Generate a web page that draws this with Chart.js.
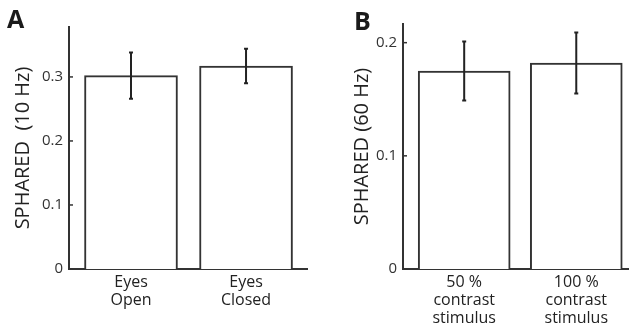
<!DOCTYPE html>
<html><head><meta charset="utf-8">
<script src="https://cdn.jsdelivr.net/npm/chart.js@4/dist/chart.umd.min.js"></script>
<style>
html,body{margin:0;padding:0;background:#fff;}
#wrap{position:relative;width:629px;height:329px;overflow:hidden;background:#fff;}
.panel{position:absolute;top:0;height:329px;}
#pA{left:0;width:315px;}
#pB{left:315px;width:314px;}
.tag{position:absolute;font:bold 25px "Open Sans";line-height:1;color:#1a1a1a;}
</style></head>
<body>
<div id="wrap">
  <div class="panel" id="pA"><canvas id="cA"></canvas></div>
  <div class="panel" id="pB"><canvas id="cB"></canvas></div>
  <div class="tag" style="left:7px;top:6px;">A</div>
  <div class="tag" style="left:354px;top:8px;">B</div>
</div>
<script>
// Panel A: alpha-band SPHARED, eyes open vs closed
const categoriesA = [['Eyes', 'Open'], ['Eyes', 'Closed']];
const valuesA = [0.302, 0.317];
const errorsA = [0.036, 0.027];
const yTicksA = [0, 0.1, 0.2, 0.3];

// Panel B: gamma-band SPHARED, 50 % vs 100 % contrast
const categoriesB = [['50 %', 'contrast', 'stimulus'], ['100 %', 'contrast', 'stimulus']];
const valuesB = [0.175, 0.182];
const errorsB = [0.026, 0.027];
const yTicksB = [0, 0.1, 0.2];

const INK = '#333';
const FONT = '"Open Sans", "DejaVu Sans", sans-serif';

// error bars plus short inward tick marks on the y axis
const extrasPlugin = {
  id: 'extras',
  afterDatasetsDraw(chart, args, opts) {
    const ctx = chart.ctx;
    const ys = chart.scales.y;
    const meta = chart.getDatasetMeta(0);
    ctx.save();
    ctx.strokeStyle = '#222';
    ctx.lineWidth = 2;
    ctx.lineCap = 'butt';
    meta.data.forEach((el, i) => {
      const v = opts.values[i], e = opts.errors[i];
      const yt = ys.getPixelForValue(v + e);
      const yb = ys.getPixelForValue(v - e);
      ctx.beginPath();
      ctx.moveTo(el.x, yt); ctx.lineTo(el.x, yb);
      ctx.moveTo(el.x - 2, yt); ctx.lineTo(el.x + 2, yt);
      ctx.moveTo(el.x - 2, yb); ctx.lineTo(el.x + 2, yb);
      ctx.stroke();
    });
    ctx.strokeStyle = INK;
    ctx.lineWidth = 1.5;
    const x0 = chart.chartArea.left;
    ys.ticks.forEach(t => {
      const y = ys.getPixelForValue(t.value);
      ctx.beginPath();
      ctx.moveTo(x0, y); ctx.lineTo(x0 + 4, y);
      ctx.stroke();
    });
    ctx.restore();
  }
};

function makeChart(id, cfg) {
  return new Chart(document.getElementById(id), {
    type: 'bar',
    data: {
      datasets: [{
        data: cfg.values.map((v, i) => ({ x: i, y: v })),
        backgroundColor: '#fff',
        borderColor: INK,
        borderWidth: 2,
        barThickness: cfg.barThickness
      }]
    },
    plugins: [extrasPlugin],
    options: {
      responsive: true,
      maintainAspectRatio: false,
      animation: false,
      layout: { padding: { top: cfg.padTop, right: cfg.padRight, left: 0, bottom: 0 } },
      plugins: {
        legend: { display: false },
        tooltip: { enabled: false },
        extras: { values: cfg.values, errors: cfg.errors }
      },
      scales: {
        x: {
          type: 'linear',
          offset: false,
          min: cfg.xMin,
          max: cfg.xMax,
          grid: { display: false, drawTicks: false },
          border: { display: true, color: INK, width: 2 },
          afterBuildTicks: s => { s.ticks = cfg.categories.map((c, i) => ({ value: i })); },
          afterFit: s => { s.height = 60; },
          ticks: {
            padding: 5,
            color: '#222',
            font: { family: FONT, size: 16, lineHeight: 1.1 },
            maxRotation: 0,
            autoSkip: false,
            callback: (v, i) => cfg.categories[i]
          }
        },
        y: {
          min: 0,
          max: cfg.yMax,
          grid: { display: false, drawTicks: false },
          border: { display: true, color: INK, width: 2 },
          afterBuildTicks: s => { s.ticks = cfg.yTicks.map(v => ({ value: v })); },
          afterFit: s => { s.width = cfg.yWidth; },
          ticks: {
            padding: 6,
            color: INK,
            font: { family: FONT, size: 15 },
            callback: v => (v === 0 ? '0' : v.toFixed(1))
          },
          title: {
            display: true,
            text: cfg.yTitle,
            color: '#222',
            padding: { top: cfg.titlePad, bottom: 0 },
            font: { family: FONT, size: 20 }
          }
        }
      }
    }
  });
}

makeChart('cA', {
  categories: categoriesA, values: valuesA, errors: errorsA, yTicks: yTicksA,
  yTitle: 'SPHARED  (10 Hz)', yMax: 0.378, yWidth: 69, titlePad: 11,
  padTop: 27, padRight: 8, xMin: -0.539, xMax: 1.530, barThickness: 93
});

makeChart('cB', {
  categories: categoriesB, values: valuesB, errors: errorsB, yTicks: yTicksB,
  yTitle: 'SPHARED (60 Hz)', yMax: 0.2165, yWidth: 88, titlePad: 35,
  padTop: 24, padRight: 0, xMin: -0.546, xMax: 1.4705, barThickness: 92
});
</script>
</body></html>
